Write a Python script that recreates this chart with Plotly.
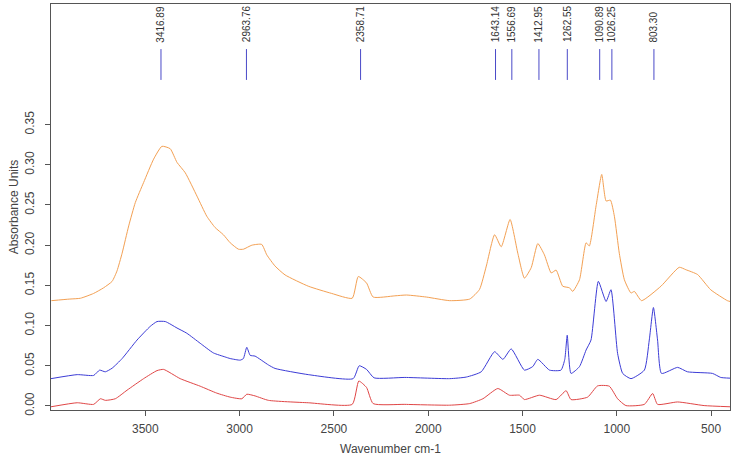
import plotly.graph_objects as go

# ---- data ----
orange_wn = [3998, 3900, 3844, 3774, 3721, 3676, 3650, 3623, 3588, 3553, 3509, 3456, 3412, 3368, 3332, 3288,
             3226, 3174, 3130, 3086, 3050, 3006, 2980, 2935, 2883, 2856, 2812, 2759, 2636, 2512, 2403, 2371,
             2327, 2292, 2177, 2115, 2010, 1886, 1780, 1728, 1692, 1648, 1613, 1566, 1525, 1490, 1454, 1419,
             1384, 1348, 1322, 1287, 1251, 1234, 1198, 1163, 1146, 1110, 1080, 1057, 1034, 1013, 987, 960,
             925, 907, 869, 766, 669, 634, 572, 502, 414, 400]
orange_abs = [0.131, 0.133, 0.134, 0.140, 0.147, 0.155, 0.168, 0.190, 0.224, 0.253, 0.278, 0.307, 0.323, 0.320, 0.303, 0.290,
              0.261, 0.236, 0.222, 0.213, 0.203, 0.195, 0.195, 0.200, 0.201, 0.188, 0.174, 0.163, 0.149, 0.140, 0.134, 0.161,
              0.153, 0.1355, 0.137, 0.138, 0.1355, 0.131, 0.133, 0.145, 0.174, 0.213, 0.198, 0.232, 0.190, 0.159, 0.172, 0.202,
              0.188, 0.1655, 0.169, 0.149, 0.147, 0.1425, 0.157, 0.203, 0.199, 0.249, 0.288, 0.255, 0.256, 0.236, 0.190, 0.157,
              0.1405, 0.1425, 0.131, 0.149, 0.1725, 0.1695, 0.1635, 0.1445, 0.131, 0.130]

blue_wn = [4000, 3861, 3774, 3742, 3712, 3676, 3623, 3544, 3474, 3438, 3394, 3332, 3280, 3209, 3139, 3077,
           3050, 2997, 2980, 2962, 2944, 2918, 2847, 2812, 2636, 2398, 2366, 2327, 2287, 2124, 1886, 1798,
           1719, 1648, 1604, 1560, 1490, 1446, 1419, 1357, 1296, 1276, 1263, 1243, 1198, 1163, 1137, 1098,
           1057, 1031, 996, 969, 925, 854, 828, 806, 784, 763, 678, 625, 493, 449, 400]
blue_abs = [0.034, 0.039, 0.038, 0.0446, 0.0425, 0.047, 0.059, 0.082, 0.099, 0.105, 0.105, 0.097, 0.0905, 0.078, 0.066, 0.061,
            0.059, 0.057, 0.059, 0.073, 0.063, 0.062, 0.051, 0.0467, 0.039, 0.034, 0.050, 0.0455, 0.035, 0.0355, 0.034, 0.036,
            0.0425, 0.0675, 0.058, 0.071, 0.0446, 0.049, 0.058, 0.0446, 0.0446, 0.058, 0.088, 0.0405, 0.049, 0.0696, 0.082, 0.155,
            0.130, 0.1446, 0.0655, 0.0405, 0.034, 0.0446, 0.082, 0.1225, 0.082, 0.0405, 0.048, 0.0425, 0.0405, 0.0355, 0.0346]

red_wn = [4000, 3861, 3774, 3738, 3712, 3659, 3597, 3509, 3438, 3403, 3315, 3209, 3121, 3050, 2988, 2962,
          2918, 2847, 2636, 2403, 2368, 2327, 2292, 2124, 1886, 1780, 1710, 1631, 1569, 1516, 1490, 1410,
          1322, 1269, 1243, 1155, 1102, 1040, 996, 952, 854, 810, 784, 678, 537, 400]
red_abs = [-0.001, 0.004, 0.002, 0.009, 0.007, 0.009, 0.0196, 0.034, 0.044, 0.0455, 0.034, 0.0246, 0.016, 0.011, 0.009, 0.0146,
           0.0125, 0.007, 0.004, 0.002, 0.031, 0.023, 0.003, 0.002, 0.001, 0.003, 0.009, 0.0217, 0.0134, 0.0134, 0.008, 0.0134,
           0.008, 0.019, 0.008, 0.011, 0.025, 0.0246, 0.009, 0.0005, 0.002, 0.0155, 0.002, 0.005, 0.0005, -0.001]

peak_labels = ["3416.89", "2963.76", "2358.71", "1643.14", "1556.69", "1412.95", "1262.55", "1090.89", "1026.25", "803.30"]
peak_pos = [float(p) for p in peak_labels]

y_tick_vals = [0.00, 0.05, 0.10, 0.15, 0.20, 0.25, 0.30, 0.35]
y_tick_text = ["0.00", "0.05", "0.10", "0.15", "0.20", "0.25", "0.30", "0.35"]
x_tick_vals = [3500, 3000, 2500, 2000, 1500, 1000, 500]
x_tick_text = ["3500", "3000", "2500", "2000", "1500", "1000", "500"]

fig = go.Figure()
for wn, ab, col in [(orange_wn, orange_abs, "#F3A053"),
                    (blue_wn, blue_abs, "#3C3CD6"),
                    (red_wn, red_abs, "#E04646")]:
    fig.add_trace(go.Scatter(x=wn, y=ab, mode="lines",
                             line=dict(color=col, width=1, shape="spline", smoothing=0.5),
                             showlegend=False, hoverinfo="skip"))

for p, lab in zip(peak_pos, peak_labels):
    fig.add_shape(type="line", xref="x", yref="paper", x0=p, x1=p, y0=0.813, y1=0.889,
                  line=dict(color="#4A4AC8", width=1))
    fig.add_annotation(x=p, xref="x", yref="paper", y=0.901, text=lab, showarrow=False,
                       textangle=-90, yanchor="bottom", xanchor="center",
                       font=dict(size=10, color="#333333", family="Liberation Sans, Arial"))

axis_common = dict(showline=True, linecolor="#555555", linewidth=1, mirror=True, automargin=False,
                   ticks="outside", ticklen=5, tickcolor="#555555", showgrid=False, zeroline=False,
                   tickfont=dict(size=12, color="#444444", family="Liberation Sans, Arial"))

fig.update_layout(
    width=734, height=462,
    margin=dict(l=51, r=4, t=4, b=52),
    paper_bgcolor="white", plot_bgcolor="white",
    font=dict(family="Liberation Sans, Arial", size=12, color="#444444"),
    xaxis=dict(range=[4000, 400], tickvals=x_tick_vals, ticktext=x_tick_text,
               title=dict(text="Wavenumber cm-1", standoff=9, font=dict(size=12, color="#444444")),
               ticklabelstandoff=3, **axis_common),
    yaxis=dict(range=[-0.005, 0.5], tickvals=y_tick_vals, ticktext=y_tick_text, tickangle=-90,
               title=dict(text="Absorbance Units", standoff=2, font=dict(size=12, color="#444444")),
               ticklabelstandoff=6, **axis_common),
)

fig.write_html("out.html", post_script="document.body.style.margin='0';",
               config={"displayModeBar": False})
